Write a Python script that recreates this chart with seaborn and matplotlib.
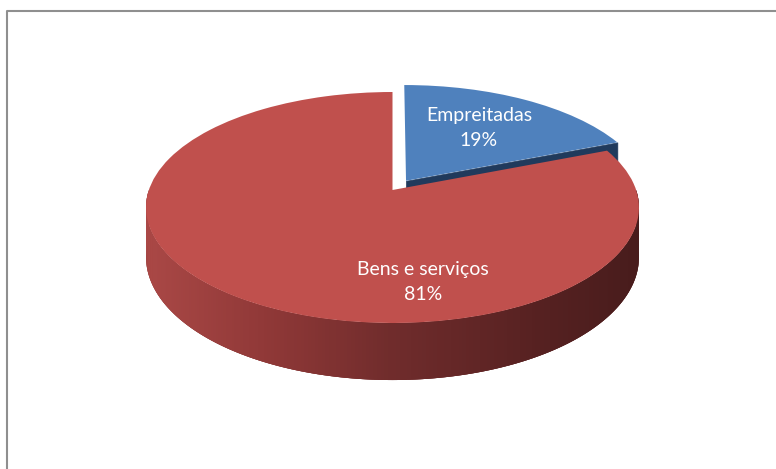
import numpy as np
import matplotlib
matplotlib.use("Agg")
import matplotlib.pyplot as plt
import seaborn as sns
from matplotlib.transforms import Transform
from matplotlib.lines import Line2D
from matplotlib.collections import PolyCollection

# ---- data ----
categories = ["Empreitadas", "Bens e serviços"]
shares = [19, 81]
pct_labels = ["19%", "81%"]
top_colors = ["#4F81BD", "#C0504D"]
explode = [0.1, 0.0]

sns.set_theme(style="white")
plt.rcParams['font.family'] = ['Lato', 'DejaVu Sans']

W, H = 776, 469
# perspective projection parameters (pixel space)
CX, CY0, K, C, A = 392.5, 190.0, 243.6, 0.1515, 84.06
DEPTH = 48.4


class Persp(Transform):
    input_dims = output_dims = 2
    is_separable = False
    has_inverse = False

    def __init__(self, drop=0.0):
        super().__init__()
        self.drop = drop

    def transform_non_affine(self, values):
        v = np.asarray(values, float).reshape(-1, 2)
        x, z = v[:, 0], v[:, 1]
        d = 1 + C * z
        X = CX + K * x / d
        Y = (CY0 - A * z + self.drop) / d
        return np.column_stack([X, Y])


fig = plt.figure(figsize=(W / 100, H / 100), dpi=100)
ax = fig.add_axes([0, 0, 1, 1])

top_T = Persp(0.0)
bot_T = Persp(DEPTH)

# slice angles (pie convention: start 90, clockwise)
fr = np.array(shares, float) / np.sum(shares)
bounds = 90 - 360 * np.concatenate([[0], np.cumsum(fr)])
mids = (bounds[:-1] + bounds[1:]) / 2
centers = [np.array([e * np.cos(np.radians(m)), e * np.sin(np.radians(m))])
           for e, m in zip(explode, mids)]

# 1) radial cut face of the exploded first slice (edge at bounds[1])
ang = np.radians(bounds[1])
c0 = centers[0]
rim = c0 + np.array([np.cos(ang), np.sin(ang)])
pts = np.vstack([c0, rim])
tp = top_T.transform(pts)
bp = bot_T.transform(pts)
face = np.vstack([tp[0], tp[1], bp[1], bp[0]])
ax.add_collection(PolyCollection([face], facecolors="#203A5C",
                                  edgecolors="#203A5C", linewidths=0.5, zorder=1))

# 2) front side wall of the large slice (visible half), shaded strips
th = np.radians(np.linspace(180, 360, 241))
c1 = centers[1]
ring = np.column_stack([c1[0] + np.cos(th), c1[1] + np.sin(th)])
tr = top_T.transform(ring)
br = bot_T.transform(ring)
xs_ref = [146, 270, 392, 540, 639]
rgb_ref = np.array([[170, 72, 70], [143, 56, 55], [112, 44, 44],
                    [86, 33, 33], [72, 28, 28]]) / 255.0
base = np.vstack([tr, br[::-1]])
ax.add_collection(PolyCollection([base], facecolors=[rgb_ref[2]],
                                 edgecolors="none", zorder=1.8))
quads, cols = [], []
for i in range(len(th) - 1):
    j = min(i + 2, len(th) - 1)
    q = np.vstack([tr[i:j + 1], br[i:j + 1][::-1]])
    quads.append(q)
    xm = 0.5 * (tr[i, 0] + tr[i + 1, 0])
    cols.append([np.interp(xm, xs_ref, rgb_ref[:, k]) for k in range(3)])
ax.add_collection(PolyCollection(quads, facecolors=cols, edgecolors="none",
                                 zorder=2))

# 3) top faces via pie with perspective transform
wedges, _ = ax.pie(shares, explode=explode, startangle=90, counterclock=False,
                   colors=top_colors,
                   wedgeprops=dict(linewidth=0, transform=top_T + ax.transData))
wedges[0].set_zorder(1.5)
wedges[1].set_zorder(3)

ax.set_xlim(0, W)
ax.set_ylim(H, 0)
ax.set_aspect('auto')
ax.axis('off')

# labels
label_pos = [(479, 128), (423, 282)]
for (lx, ly), cat, pl in zip(label_pos, categories, pct_labels):
    ax.text(lx, ly, f"{cat}\n{pl}", ha="center", va="center", color="white",
            fontsize=14, linespacing=1.6, zorder=5)

# chart border (only left and top edges are inside the image)
ax.add_line(Line2D([7, 7, W + 20], [H + 20, 11, 11], color="#8f8f8f",
                   linewidth=1.5, clip_on=False, zorder=6))

fig.savefig("out.png", dpi=100)
